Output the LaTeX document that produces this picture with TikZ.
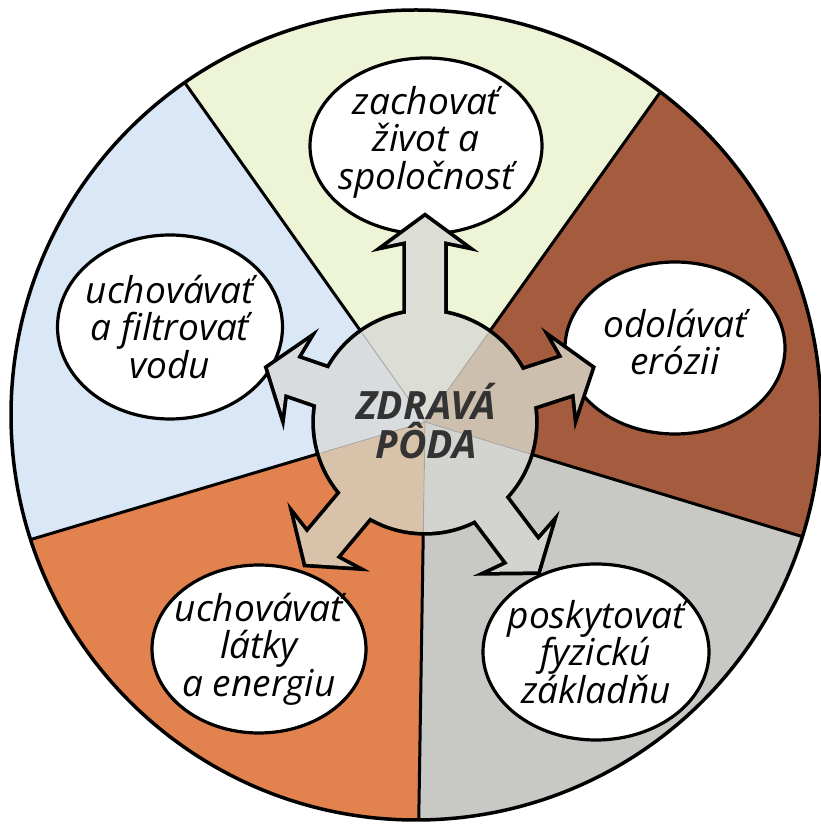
\documentclass[tikz,border=0pt]{standalone}
\usepackage{fontspec}
\setsansfont{Open Sans}
\usetikzlibrary{shapes.geometric}
\definecolor{zelena}{HTML}{EEF5D7}
\definecolor{modra}{HTML}{DAE7F6}
\definecolor{oranzova}{HTML}{E2834F}
\definecolor{seda}{HTML}{C8C8C5}
\definecolor{hneda}{HTML}{A55B3E}
\definecolor{tzelena}{HTML}{DCDDD5}
\definecolor{tmodra}{HTML}{D9DCDE}
\definecolor{toranzova}{HTML}{D8C3AA}
\definecolor{tseda}{HTML}{D3D3D0}
\definecolor{thneda}{HTML}{CDBFAE}
\tikzset{
  bubble/.style={draw, ellipse, line width=3.2pt, fill=white, inner sep=0pt},
  btext/.style={align=center, inner sep=0pt,
                font=\sffamily\itshape\fontsize{37}{37.5}\selectfont},
  hubline/.style={line width=7.5pt},
  rim/.style={line width=3.5pt},
  seam/.style={line width=3pt},
  faint/.style={line width=0.8pt, black!35},
}
% one block arrow along the x axis, tip at #1
\newcommand\hubarrow[1]{(60,-19) -- (#1-24,-19) -- (#1-28,-38) -- (#1,0)
  -- (#1-28,38) -- (#1-24,19) -- (60,19) -- cycle}
% tinted sectors inside the hub
\newcommand\tints{%
  \foreach \a/\b/\c in {54.5/125.3/tzelena, 125.3/196.6/tmodra,
      196.6/269.1/toranzova, 269.1/343.1/tseda, 343.1/414.5/thneda}
    \fill[\c] (hc) -- ++(\a:300) arc[start angle=\a, end angle=\b, radius=300] -- cycle;}

\begin{document}
\begin{tikzpicture}[x=1pt, y=1pt]
  \useasboundingbox (0,0) rectangle (821,827);
  \coordinate (hc) at (425,405);
  \coordinate (mid) at (416,412);

  % colour sectors
  \begin{scope}
    \clip (mid) circle (405);
    \foreach \a/\b/\c in {54.5/125.3/zelena, 125.3/196.6/modra,
        196.6/269.1/oranzova, 269.1/343.1/seda, 343.1/414.5/hneda}
      \fill[\c] (hc) -- ++(\a:700) arc[start angle=\a, end angle=\b, radius=700] -- cycle;
    \foreach \a in {54.5,125.3,196.6,269.1,343.1}
      \draw[seam] (hc) -- ++(\a:700);
  \end{scope}
  \draw[rim] (mid) circle (405);

  % bubbles
  \node[bubble, minimum width=232pt, minimum height=176pt] (zivot) at (426,681) {};
  \node[bubble, minimum width=220pt, minimum height=172pt] (erozia) at (675,479) {};
  \node[bubble, minimum width=225pt, minimum height=184pt] (voda) at (170,500) {};
  \node[bubble, minimum width=214pt, minimum height=168pt] (latky) at (259,178) {};
  \node[bubble, minimum width=226pt, minimum height=176pt] (zaklad) at (596,175) {};

  % hub with arrows
  \foreach \ang/\len in {90/205, 18/175, 161/166, 230/185, 307/187}
    \draw[hubline, shift={(hc)}, rotate=\ang] \hubarrow{\len};
  \draw[hubline] (hc) circle (110);
  \begin{scope}
    \clip (hc) circle (110);
    \tints
  \end{scope}
  \foreach \ang/\len in {90/205, 18/175, 161/166, 230/185, 307/187}{
    \begin{scope}
      \clip[shift={(hc)}, rotate=\ang] \hubarrow{\len};
      \tints
    \end{scope}}
  \foreach \a in {54.5,125.3,196.6,269.1,343.1}
    \draw[faint] (hc) -- ++(\a:108);

  % texts
  \node[font=\sffamily\bfseries\itshape\fontsize{39}{39}\selectfont,
        text=black!80, align=center] (poda) at (426,406) {ZDRAVÁ\\PÔDA};
  \node[btext] (zivot-t) at ([yshift=4pt]zivot) {zachovať\\život a\\spoločnosť};
  \node[btext] (erozia-t) at ([yshift=6pt]erozia) {odolávať\\erózii};
  \node[btext] (voda-t) at (voda) {uchovávať\\a filtrovať\\vodu};
  \node[btext] (latky-t) at (latky) {uchovávať\\látky\\a energiu};
  \node[btext] (zaklad-t) at (zaklad) {poskytovať\\fyzickú\\základňu};
\end{tikzpicture}
\end{document}
